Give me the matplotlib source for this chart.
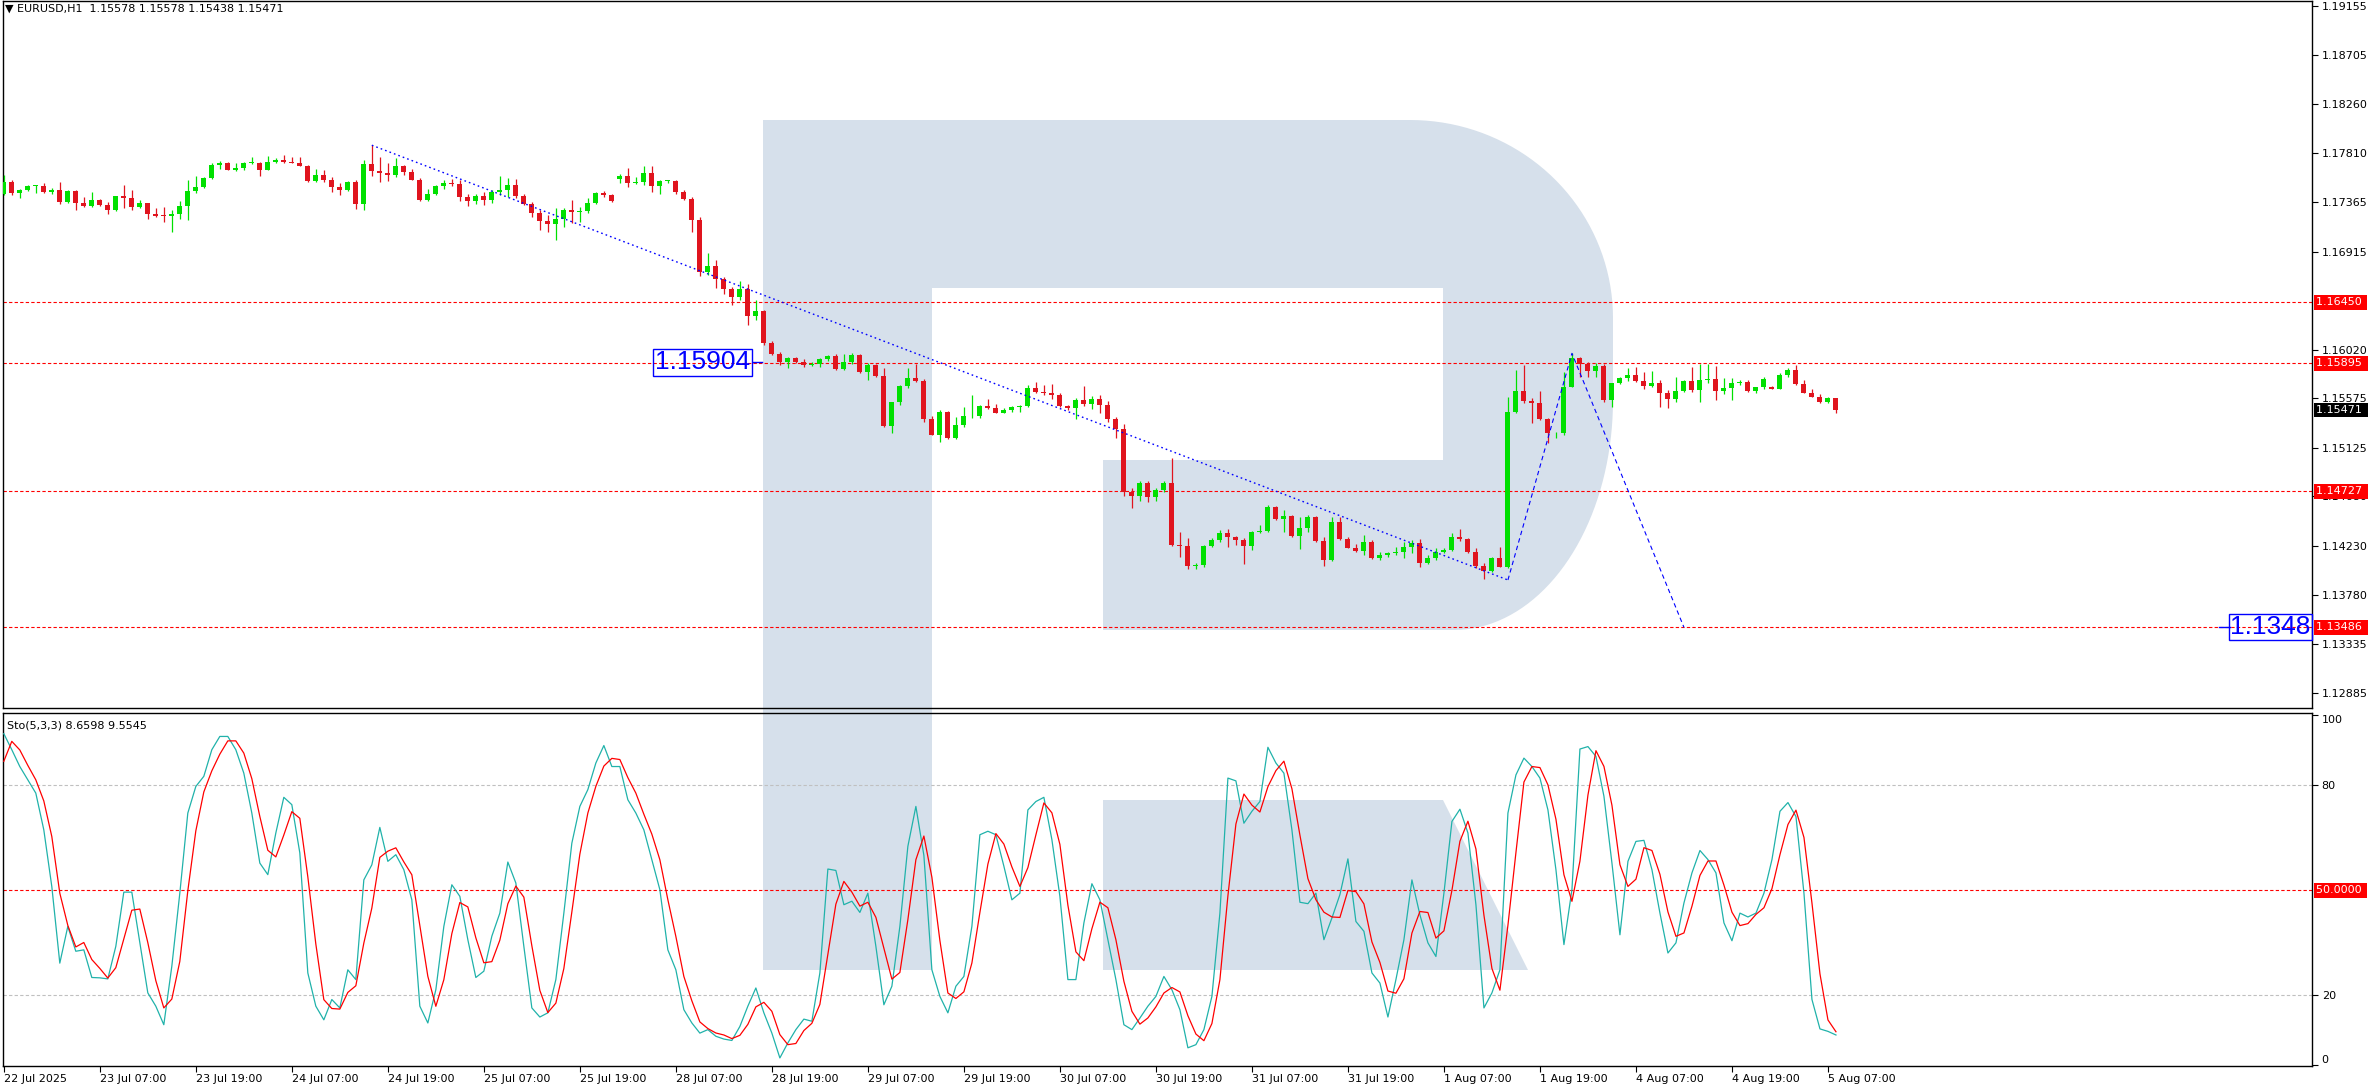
import numpy as np
import pandas as pd
import matplotlib
matplotlib.use('Agg')
import matplotlib.pyplot as plt
from matplotlib.patches import Polygon
import matplotlib.transforms as mtransforms

plt.rcParams['font.family'] = ['DejaVu Sans']
plt.rcParams['font.size'] = 8

# EURUSD H1 candles, 22 Jul 2025 19:00 .. 5 Aug 2025 08:00
open_ = [
    1.17444, 1.17551, 1.17450, 1.17475, 1.17511, 1.17517, 1.17460, 1.17475, 1.17368, 1.17469,
    1.17359, 1.17329, 1.17384, 1.17338, 1.17292, 1.17420, 1.17405, 1.17317, 1.17359, 1.17256,
    1.17241, 1.17238, 1.17256, 1.17329, 1.17466, 1.17505, 1.17590, 1.17703, 1.17721, 1.17663,
    1.17675, 1.17721, 1.17727, 1.17663, 1.17733, 1.17754, 1.17730, 1.17727, 1.17700, 1.17560,
    1.17612, 1.17572, 1.17505, 1.17475, 1.17545, 1.17347, 1.17718, 1.17651, 1.17633, 1.17615,
    1.17697, 1.17639, 1.17572, 1.17384, 1.17444, 1.17511, 1.17536, 1.17533, 1.17414, 1.17378,
    1.17423, 1.17384, 1.17460, 1.17475, 1.17520, 1.17426, 1.17347, 1.17268, 1.17195, 1.17165,
    1.17210, 1.17292, 1.17280, 1.17286, 1.17359, 1.17450, 1.17435, 1.17575, 1.17606, 1.17536,
    1.17551, 1.17633, 1.17514, 1.17560, 1.17563, 1.17457, 1.17393, 1.17201, 1.16730, 1.16782,
    1.16660, 1.16569, 1.16502, 1.16569, 1.16329, 1.16371, 1.16076, 1.15979, 1.15909, 1.15940,
    1.15909, 1.15879, 1.15888, 1.15930, 1.15961, 1.15842, 1.15903, 1.15967, 1.15818, 1.15879,
    1.15778, 1.15322, 1.15541, 1.15684, 1.15757, 1.15736, 1.15387, 1.15244, 1.15450, 1.15213,
    1.15329, 1.15411, 1.15414, 1.15505, 1.15487, 1.15444, 1.15469, 1.15499, 1.15508, 1.15672,
    1.15636, 1.15627, 1.15606, 1.15505, 1.15487, 1.15560, 1.15523, 1.15572, 1.15514, 1.15387,
    1.15298, 1.14723, 1.14687, 1.14806, 1.14678, 1.14739, 1.14806, 1.14237, 1.14228, 1.14045,
    1.14054, 1.14228, 1.14282, 1.14343, 1.14307, 1.14282, 1.14228, 1.14355, 1.14364, 1.14586,
    1.14474, 1.14501, 1.14322, 1.14395, 1.14492, 1.14273, 1.14100, 1.14450, 1.14291, 1.14212,
    1.14182, 1.14267, 1.14115, 1.14142, 1.14161, 1.14173, 1.14215, 1.14252, 1.14069, 1.14118,
    1.14176, 1.14194, 1.14310, 1.14288, 1.14176, 1.14045, 1.14002, 1.14118, 1.14039, 1.15450,
    1.15645, 1.15554, 1.15536, 1.15387, 1.15256, 1.15262, 1.15682, 1.15940, 1.15885, 1.15828,
    1.15870, 1.15560, 1.15712, 1.15758, 1.15788, 1.15736, 1.15691, 1.15718, 1.15627, 1.15566,
    1.15642, 1.15733, 1.15651, 1.15742, 1.15755, 1.15645, 1.15666, 1.15718, 1.15727, 1.15642,
    1.15676, 1.15679, 1.15660, 1.15785, 1.15834, 1.15706, 1.15627, 1.15590, 1.15545, 1.15578,
]
high = [
    1.17612, 1.17566, 1.17490, 1.17520, 1.17526, 1.17536, 1.17499, 1.17548, 1.17475, 1.17481,
    1.17414, 1.17460, 1.17390, 1.17368, 1.17426, 1.17520, 1.17475, 1.17384, 1.17362, 1.17308,
    1.17317, 1.17298, 1.17378, 1.17572, 1.17602, 1.17596, 1.17724, 1.17742, 1.17733, 1.17727,
    1.17733, 1.17779, 1.17733, 1.17785, 1.17773, 1.17794, 1.17779, 1.17779, 1.17709, 1.17672,
    1.17663, 1.17596, 1.17536, 1.17560, 1.17572, 1.17754, 1.17885, 1.17779, 1.17724, 1.17773,
    1.17703, 1.17672, 1.17590, 1.17490, 1.17520, 1.17572, 1.17581, 1.17572, 1.17444, 1.17444,
    1.17460, 1.17481, 1.17602, 1.17590, 1.17578, 1.17444, 1.17368, 1.17292, 1.17247, 1.17308,
    1.17308, 1.17384, 1.17323, 1.17399, 1.17460, 1.17466, 1.17440, 1.17627, 1.17678, 1.17596,
    1.17694, 1.17694, 1.17566, 1.17572, 1.17572, 1.17475, 1.17414, 1.17226, 1.16903, 1.16836,
    1.16684, 1.16593, 1.16645, 1.16618, 1.16472, 1.16380, 1.16101, 1.16000, 1.15955, 1.15955,
    1.15930, 1.15909, 1.15940, 1.15967, 1.15979, 1.15979, 1.15985, 1.15979, 1.15894, 1.15888,
    1.15848, 1.15544, 1.15696, 1.15848, 1.15885, 1.15749, 1.15414, 1.15469, 1.15463, 1.15408,
    1.15493, 1.15606, 1.15514, 1.15566, 1.15523, 1.15484, 1.15505, 1.15514, 1.15697, 1.15727,
    1.15697, 1.15706, 1.15621, 1.15514, 1.15575, 1.15688, 1.15596, 1.15606, 1.15551, 1.15408,
    1.15341, 1.14754, 1.14821, 1.14821, 1.14754, 1.14821, 1.15034, 1.14352, 1.14298, 1.14069,
    1.14237, 1.14298, 1.14374, 1.14380, 1.14319, 1.14298, 1.14367, 1.14419, 1.14602, 1.14593,
    1.14556, 1.14510, 1.14495, 1.14510, 1.14501, 1.14307, 1.14489, 1.14495, 1.14313, 1.14246,
    1.14328, 1.14282, 1.14173, 1.14176, 1.14221, 1.14267, 1.14282, 1.14288, 1.14145, 1.14206,
    1.14209, 1.14343, 1.14380, 1.14298, 1.14206, 1.14075, 1.14124, 1.14221, 1.15590, 1.15834,
    1.15879, 1.15575, 1.15642, 1.15393, 1.15271, 1.15818, 1.15986, 1.15955, 1.15910, 1.15895,
    1.15885, 1.15718, 1.15767, 1.15849, 1.15864, 1.15818, 1.15825, 1.15742, 1.15651, 1.15773,
    1.15742, 1.15864, 1.15885, 1.15885, 1.15870, 1.15758, 1.15758, 1.15742, 1.15742, 1.15682,
    1.15767, 1.15685, 1.15803, 1.15849, 1.15879, 1.15742, 1.15657, 1.15615, 1.15590, 1.15578,
]
low = [
    1.17429, 1.17429, 1.17405, 1.17469, 1.17450, 1.17450, 1.17444, 1.17347, 1.17362, 1.17292,
    1.17317, 1.17323, 1.17329, 1.17262, 1.17286, 1.17308, 1.17292, 1.17308, 1.17216, 1.17226,
    1.17186, 1.17095, 1.17216, 1.17201, 1.17450, 1.17493, 1.17581, 1.17672, 1.17657, 1.17651,
    1.17663, 1.17712, 1.17606, 1.17657, 1.17727, 1.17724, 1.17721, 1.17694, 1.17551, 1.17551,
    1.17551, 1.17454, 1.17429, 1.17469, 1.17305, 1.17298, 1.17606, 1.17545, 1.17557, 1.17596,
    1.17612, 1.17566, 1.17378, 1.17378, 1.17429, 1.17490, 1.17511, 1.17378, 1.17329, 1.17347,
    1.17338, 1.17359, 1.17429, 1.17414, 1.17399, 1.17338, 1.17232, 1.17110, 1.17095, 1.17019,
    1.17140, 1.17177, 1.17186, 1.17268, 1.17347, 1.17414, 1.17368, 1.17536, 1.17505, 1.17530,
    1.17520, 1.17460, 1.17444, 1.17536, 1.17444, 1.17384, 1.17095, 1.16690, 1.16700, 1.16578,
    1.16532, 1.16426, 1.16472, 1.16244, 1.16289, 1.16061, 1.15970, 1.15879, 1.15848, 1.15894,
    1.15858, 1.15870, 1.15864, 1.15918, 1.15833, 1.15833, 1.15888, 1.15803, 1.15742, 1.15772,
    1.15316, 1.15262, 1.15514, 1.15666, 1.15727, 1.15362, 1.15241, 1.15180, 1.15204, 1.15204,
    1.15317, 1.15393, 1.15393, 1.15475, 1.15438, 1.15438, 1.15450, 1.15453, 1.15493, 1.15621,
    1.15606, 1.15566, 1.15493, 1.15469, 1.15387, 1.15505, 1.15475, 1.15438, 1.15362, 1.15210,
    1.14684, 1.14571, 1.14638, 1.14632, 1.14638, 1.14723, 1.14228, 1.14130, 1.14015, 1.14015,
    1.14033, 1.14215, 1.14267, 1.14221, 1.14237, 1.14063, 1.14191, 1.14343, 1.14352, 1.14465,
    1.14358, 1.14313, 1.14200, 1.14358, 1.14267, 1.14045, 1.14094, 1.14282, 1.14206, 1.14173,
    1.14145, 1.14106, 1.14100, 1.14124, 1.14142, 1.14115, 1.14161, 1.14039, 1.14060, 1.14100,
    1.14167, 1.14182, 1.14276, 1.14167, 1.14030, 1.13923, 1.13993, 1.14033, 1.14024, 1.15438,
    1.15536, 1.15347, 1.15377, 1.15164, 1.15210, 1.15241, 1.15676, 1.15773, 1.15773, 1.15773,
    1.15545, 1.15493, 1.15706, 1.15736, 1.15727, 1.15657, 1.15682, 1.15493, 1.15484, 1.15545,
    1.15636, 1.15636, 1.15545, 1.15712, 1.15560, 1.15615, 1.15560, 1.15697, 1.15630, 1.15621,
    1.15663, 1.15657, 1.15657, 1.15773, 1.15697, 1.15621, 1.15584, 1.15536, 1.15536, 1.15438,
]
close = [
    1.17551, 1.17450, 1.17475, 1.17511, 1.17517, 1.17460, 1.17475, 1.17368, 1.17469, 1.17359,
    1.17329, 1.17384, 1.17338, 1.17292, 1.17420, 1.17405, 1.17317, 1.17359, 1.17256, 1.17241,
    1.17238, 1.17256, 1.17329, 1.17466, 1.17505, 1.17590, 1.17703, 1.17721, 1.17663, 1.17675,
    1.17721, 1.17727, 1.17663, 1.17733, 1.17754, 1.17730, 1.17727, 1.17700, 1.17560, 1.17612,
    1.17572, 1.17505, 1.17475, 1.17545, 1.17347, 1.17718, 1.17651, 1.17633, 1.17615, 1.17697,
    1.17639, 1.17572, 1.17384, 1.17444, 1.17511, 1.17536, 1.17533, 1.17414, 1.17378, 1.17423,
    1.17384, 1.17460, 1.17475, 1.17520, 1.17426, 1.17347, 1.17268, 1.17195, 1.17165, 1.17210,
    1.17292, 1.17280, 1.17286, 1.17359, 1.17450, 1.17435, 1.17374, 1.17606, 1.17536, 1.17551,
    1.17633, 1.17514, 1.17560, 1.17563, 1.17457, 1.17393, 1.17201, 1.16730, 1.16782, 1.16660,
    1.16569, 1.16502, 1.16569, 1.16329, 1.16371, 1.16076, 1.15979, 1.15909, 1.15940, 1.15909,
    1.15879, 1.15888, 1.15930, 1.15961, 1.15842, 1.15903, 1.15967, 1.15818, 1.15879, 1.15778,
    1.15322, 1.15541, 1.15684, 1.15757, 1.15736, 1.15387, 1.15244, 1.15450, 1.15213, 1.15329,
    1.15411, 1.15414, 1.15505, 1.15487, 1.15444, 1.15469, 1.15499, 1.15508, 1.15672, 1.15636,
    1.15627, 1.15606, 1.15505, 1.15487, 1.15560, 1.15523, 1.15572, 1.15514, 1.15387, 1.15298,
    1.14723, 1.14687, 1.14806, 1.14678, 1.14739, 1.14806, 1.14237, 1.14228, 1.14045, 1.14054,
    1.14228, 1.14282, 1.14343, 1.14307, 1.14282, 1.14228, 1.14355, 1.14364, 1.14586, 1.14474,
    1.14501, 1.14322, 1.14395, 1.14492, 1.14273, 1.14100, 1.14450, 1.14291, 1.14212, 1.14182,
    1.14267, 1.14115, 1.14142, 1.14161, 1.14173, 1.14215, 1.14252, 1.14069, 1.14118, 1.14176,
    1.14194, 1.14310, 1.14288, 1.14176, 1.14045, 1.14002, 1.14118, 1.14039, 1.15450, 1.15645,
    1.15554, 1.15536, 1.15387, 1.15256, 1.15262, 1.15682, 1.15940, 1.15885, 1.15828, 1.15870,
    1.15560, 1.15712, 1.15758, 1.15788, 1.15736, 1.15691, 1.15718, 1.15627, 1.15566, 1.15642,
    1.15733, 1.15651, 1.15742, 1.15755, 1.15645, 1.15666, 1.15718, 1.15727, 1.15642, 1.15676,
    1.15752, 1.15663, 1.15785, 1.15834, 1.15706, 1.15627, 1.15590, 1.15545, 1.15575, 1.15471,
]

# Stochastic(5,3,3) main line; two bars left of the window feed the signal average
sto_main_lead = [73.1, 92.8]
sto_main = [
    94.8, 90.2, 85.4, 81.6, 77.8, 67.3, 51.1, 29.2, 39.7, 32.6,
    33.0, 25.1, 25.0, 24.7, 34.0, 49.5, 49.5, 35.0, 20.7, 16.9,
    11.6, 28.3, 49.2, 72.1, 79.7, 82.6, 90.2, 94.0, 94.0, 90.2,
    83.5, 72.1, 57.8, 54.5, 66.4, 76.6, 74.5, 60.7, 26.4, 16.9,
    13.0, 18.8, 16.4, 27.3, 24.5, 53.0, 57.3, 68.0, 58.3, 60.2,
    55.9, 47.3, 16.9, 12.1, 21.6, 39.7, 51.6, 48.3, 35.9, 25.1,
    26.9, 36.9, 43.5, 58.1, 52.1, 34.0, 16.4, 13.8, 15.0, 24.5,
    43.5, 63.5, 74.0, 78.8, 86.4, 91.4, 85.4, 85.4, 75.9, 72.1,
    67.3, 58.8, 50.2, 33.0, 27.3, 15.9, 12.1, 9.2, 10.2, 8.3,
    7.5, 7.1, 11.1, 16.9, 22.1, 15.0, 9.2, 2.1, 6.4, 10.2,
    13.2, 12.6, 26.4, 56.1, 55.7, 45.9, 46.9, 43.7, 49.2, 34.0,
    17.3, 22.6, 39.7, 62.6, 74.0, 60.0, 27.3, 19.7, 15.0, 22.6,
    25.4, 39.7, 65.9, 66.9, 65.9, 56.9, 47.3, 49.2, 73.0, 75.4,
    76.6, 64.5, 48.3, 24.5, 24.5, 40.7, 51.9, 47.3, 35.9, 24.5,
    11.6, 10.2, 13.5, 16.9, 19.7, 25.4, 21.6, 15.9, 5.0, 5.9,
    10.2, 19.7, 43.5, 82.1, 81.3, 69.2, 72.6, 75.4, 90.9, 86.4,
    83.5, 67.3, 46.6, 46.2, 49.2, 35.9, 42.1, 48.8, 59.0, 41.1,
    38.3, 26.4, 23.5, 13.8, 24.5, 35.9, 53.0, 43.0, 35.0, 31.1,
    49.2, 69.7, 73.2, 66.4, 45.9, 16.4, 20.7, 27.3, 72.1, 83.0,
    87.8, 85.4, 82.1, 73.0, 55.9, 34.5, 50.2, 90.4, 91.1, 88.3,
    76.9, 57.8, 37.3, 58.3, 64.0, 64.3, 55.9, 43.5, 32.1, 35.0,
    46.4, 55.0, 61.4, 58.8, 55.0, 40.7, 35.6, 43.5, 42.4, 43.5,
    49.2, 58.8, 72.6, 75.1, 71.1, 49.2, 18.8, 10.4, 9.7, 8.6598,
]

time_labels = ['22 Jul 2025', '23 Jul 07:00', '23 Jul 19:00', '24 Jul 07:00', '24 Jul 19:00',
               '25 Jul 07:00', '25 Jul 19:00', '28 Jul 07:00', '28 Jul 19:00', '29 Jul 07:00',
               '29 Jul 19:00', '30 Jul 07:00', '30 Jul 19:00', '31 Jul 07:00', '31 Jul 19:00',
               '1 Aug 07:00', '1 Aug 19:00', '4 Aug 07:00', '4 Aug 19:00', '5 Aug 07:00']
price_ticks = [1.19155, 1.18705, 1.18260, 1.17810, 1.17365, 1.16915, 1.16020,
               1.15575, 1.15125, 1.14680, 1.14230, 1.13780, 1.13335, 1.12885]
levels = [1.16450, 1.15895, 1.14727, 1.13486]
last_price = 1.15471
header = '\u25bc EURUSD,H1  1.15578 1.15578 1.15438 1.15471'
sto_header = 'Sto(5,3,3) 8.6598 9.5545'

# analyst drawings (bar index, price)
trend_down_x, trend_down_y = [46, 188], [1.17885, 1.13918]
zig_x, zig_y = [188, 196, 210], [1.13918, 1.15986, 1.13486]
tag_left = (81.4, 1.15904, '1.15904')
tag_right = (278.3, 1.13486, '1.1348')

BULL = '#00e000'
BEAR = '#e0141e'
WATERMARK = '#d6e0eb'

W, H = 2376, 1090
fig = plt.figure(figsize=(W / 100, H / 100), dpi=100)
fig.patch.set_facecolor('white')


def px_box(left, top, right, bottom):
    return [left / W, 1 - bottom / H, (right - left) / W, (bottom - top) / H]


# background with the broker logo watermark (pixel coordinates)
bg = fig.add_axes([0, 0, 1, 1])
bg.set_xlim(0, W)
bg.set_ylim(H, 0)
bg.axis('off')


def quarter(cx, cy, rx, ry, a0, a1, n=40):
    t = np.radians(np.linspace(a0, a1, n))
    return np.column_stack([cx + rx * np.cos(t), cy - ry * np.sin(t)])


p_shape = np.vstack([
    [[763, 120]],
    quarter(1410, 318, 203, 198, 90, 0),
    quarter(1454, 400, 159, 230, 0, -90),
    [[1103, 630], [1103, 460], [1443, 460], [1443, 288], [932, 288], [932, 970], [763, 970]],
])
bg.add_patch(Polygon(p_shape, closed=True, fc=WATERMARK, ec='none'))
bg.add_patch(Polygon([[1103, 800], [1443, 800], [1528, 970], [1103, 970]], closed=True,
                     fc=WATERMARK, ec='none'))

# ---- price panel
ax = fig.add_axes(px_box(3, 1, 2312, 708))
ax2 = fig.add_axes(px_box(3, 713, 2312, 1066))
for a in (ax, ax2):
    a.set_facecolor('none')
    for s in a.spines.values():
        s.set_linewidth(1.0)
        s.set_color('black')

o = np.array(open_)
hi = np.array(high)
lo = np.array(low)
c = np.array(close)
x = np.arange(len(c))
col = np.where(c >= o, BULL, BEAR)

ax.vlines(x, lo, hi, colors=col, lw=0.9, zorder=3)
ax.bar(x, np.maximum(np.abs(c - o), 0.00007), bottom=np.minimum(o, c), width=0.62,
       color=col, lw=0, zorder=4)

for lv in levels:
    ax.axhline(lv, color='red', lw=0.8, ls=(0, (3, 2)), zorder=2)

ax.plot(trend_down_x, trend_down_y, color='blue', lw=1.0, ls=(0, (1.2, 2.2)), zorder=5)
ax.plot(zig_x, zig_y, color='blue', lw=0.8, ls=(0, (4, 3)), zorder=5)

tx, ty, tt = tag_left
ax.text(tx, ty, tt, fontsize=19, family='Liberation Sans', color='blue', ha='left', va='center',
        zorder=6, bbox=dict(boxstyle='square,pad=0.06', fc='none', ec='blue', lw=1.0))
ax.plot([tx + 12.2, tx + 13.4], [ty, ty], color='blue', lw=1.0, zorder=6)
tx, ty, tt = tag_right
ax.text(tx, ty, tt, fontsize=19, family='Liberation Sans', color='blue', ha='left', va='center',
        zorder=6, bbox=dict(boxstyle='square,pad=0.04', fc='none', ec='blue', lw=1.0))
ax.plot([tx - 1.4, tx], [ty, ty], color='blue', lw=1.0, zorder=6)

ax.set_xlim(-0.1, 288.5)
ax.set_ylim(1.12750, 1.19201)
ax.set_xticks([])
ax.yaxis.tick_right()
ax.set_yticks(price_ticks)
ax.set_yticklabels([f'{p:.5f}' for p in price_ticks])
ax.tick_params(axis='y', direction='out', length=4, width=0.8, pad=3, labelsize=8)

tag_tr = mtransforms.offset_copy(ax.get_yaxis_transform(), fig=fig, x=4, y=0, units='dots')
for lv in levels:
    ax.text(1.0, lv, f'{lv:.5f} ', transform=tag_tr, ha='left', va='center', fontsize=8,
            color='white', clip_on=False, zorder=10,
            bbox=dict(boxstyle='square,pad=0.2', fc='red', ec='none'))
ax.text(1.0, last_price, f'{last_price:.5f} ', transform=tag_tr, ha='left', va='center',
        fontsize=8, color='white', clip_on=False, zorder=10,
        bbox=dict(boxstyle='square,pad=0.2', fc='black', ec='none'))

# ---- stochastic panel
k_full = pd.Series(sto_main_lead + sto_main)
sto_signal = k_full.rolling(3).mean().to_numpy()[len(sto_main_lead):]

ax2.plot(x, sto_main, color='#20b2aa', lw=0.9, zorder=4)
ax2.plot(x, sto_signal, color='red', lw=0.9, zorder=5)
for lv in (80, 20):
    ax2.axhline(lv, color='#c0c0c0', lw=0.8, ls=(0, (3, 2)), zorder=2)
ax2.axhline(50, color='red', lw=0.8, ls=(0, (3, 2)), zorder=2)

ax2.set_xlim(-0.1, 288.5)
ax2.set_ylim(-0.2, 100.7)
ax2.yaxis.tick_right()
ax2.set_yticks([0, 20, 80, 100])
ax2.set_yticklabels(['0', '20', '80', '100'])
ax2.tick_params(axis='y', direction='out', length=4, width=0.8, pad=3, labelsize=8)
for lbl in ax2.get_yticklabels():
    if lbl.get_text() == '100':
        lbl.set_va('top')
    elif lbl.get_text() == '0':
        lbl.set_va('bottom')
ax2.text(1.0, 50, '50.0000 ', transform=mtransforms.offset_copy(ax2.get_yaxis_transform(),
         fig=fig, x=4, y=0, units='dots'), ha='left', va='center', fontsize=8, color='white',
         clip_on=False, zorder=10, bbox=dict(boxstyle='square,pad=0.2', fc='red', ec='none'))

ax2.set_xticks(np.arange(len(time_labels)) * 12)
ax2.set_xticklabels(time_labels, ha='left')
ax2.tick_params(axis='x', direction='out', length=4, width=0.8, pad=2, labelsize=8)

fig.text(5 / W, 1 - 9 / H, header, fontsize=8, va='center', ha='left')
fig.text(7 / W, 1 - 726 / H, sto_header, fontsize=8, va='center', ha='left')

fig.savefig('out.png', dpi=100, facecolor='white')
